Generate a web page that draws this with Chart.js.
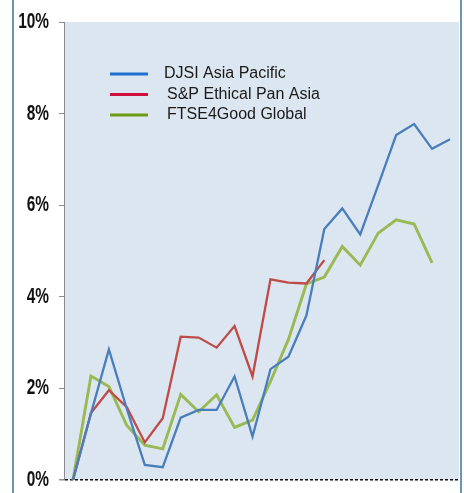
<!DOCTYPE html>
<html>
<head>
<meta charset="utf-8">
<script src="https://cdn.jsdelivr.net/npm/chart.js@4/dist/chart.umd.min.js"></script>
<style>
  body { margin: 0; background: #fff; }
  #wrap { position: relative; width: 464px; height: 493px; }
</style>
</head>
<body>
<div id="wrap"><canvas id="myChart" width="464" height="493"></canvas></div>
<script>
// periods (no labels shown on the axis)
var periods = ['0', '1', '2', '3', '4', '5', '6', '7', '8', '9', '10',
  '11', '12', '13', '14', '15', '16', '17', '18', '19', '20', '21'];

var djsi = [0, 1.45, 2.85, 1.55, 0.33, 0.28, 1.36, 1.53, 1.53, 2.26, 0.95,
  2.42, 2.69, 3.59, 5.48, 5.93, 5.36, 6.44, 7.53, 7.77, 7.23, 7.44];
var spEthical = [0, 1.46, 1.96, 1.59, 0.82, 1.35, 3.13, 3.11, 2.89, 3.36, 2.26,
  4.38, 4.31, 4.29, 4.80, null, null, null, null, null, null, null];
var ftse4good = [0, 2.27, 2.04, 1.19, 0.76, 0.68, 1.87, 1.49, 1.86, 1.15, 1.31,
  2.15, 3.07, 4.28, 4.43, 5.10, 4.69, 5.39, 5.68, 5.59, 4.74, null];

var yTicks = [0, 2, 4, 6, 8, 10];

var legendColors = ['#1f6fd2', '#d0103c', '#6c9c16'];

// light blue plot area + frame lines
var backdrop = {
  id: 'backdrop',
  beforeDraw: function (chart) {
    var ctx = chart.ctx, a = chart.chartArea;
    ctx.save();
    ctx.fillStyle = '#dce6f0';
    ctx.fillRect(a.left, a.top, a.right - a.left, a.bottom - a.top);
    ctx.restore();
  },
  afterDraw: function (chart) {
    var ctx = chart.ctx;
    ctx.save();
    ctx.strokeStyle = '#3f7390';
    ctx.lineWidth = 1.5;
    ctx.beginPath();
    ctx.moveTo(13, 0); ctx.lineTo(13, 493);
    ctx.moveTo(461, 0); ctx.lineTo(461, 493);
    ctx.stroke();
    ctx.restore();
  }
};

// narrow the y labels (no condensed font installed)
var narrowLabels = {
  id: 'narrowLabels',
  afterLayout: function (chart) {
    var s = chart.scales.y;
    if (s._narrowed) return;
    s._narrowed = true;
    var orig = s.drawLabels;
    s.drawLabels = function (area) {
      var c = this.ctx;
      var x = this.right - 15;
      c.save();
      c.translate(x, 0);
      c.scale(0.7, 1);
      c.translate(-x, 0);
      orig.call(this, area);
      c.restore();
    };
  }
};

// legend sits inside the plot
var innerLegend = {
  id: 'innerLegend',
  afterDatasetsDraw: function (chart) {
    var ctx = chart.ctx;
    ctx.save();
    ctx.font = '16px "Liberation Sans", Arial, sans-serif';
    ctx.textBaseline = 'middle';
    chart.data.datasets.forEach(function (ds, i) {
      var y = 74 + i * 20.5;
      ctx.strokeStyle = legendColors[i];
      ctx.lineWidth = 3;
      ctx.beginPath();
      ctx.moveTo(110, y);
      ctx.lineTo(148, y);
      ctx.stroke();
      ctx.fillStyle = '#1a1a1a';
      ctx.fillText(ds.label, i == 0 ? 164 : 167, y);
    });
    ctx.restore();
  }
};

var ctx = document.getElementById('myChart');
var myChart = new Chart(ctx, {
  type: 'line',
  data: {
    labels: periods,
    datasets: [{
      label: 'DJSI Asia Pacific',
      data: djsi,
      borderColor: '#4a7ebb',
      borderWidth: 2.3
    }, {
      label: 'S&P Ethical Pan Asia',
      data: spEthical,
      borderColor: '#be4b48',
      borderWidth: 2.3
    }, {
      label: 'FTSE4Good Global',
      data: ftse4good,
      borderColor: '#98b954',
      borderWidth: 2.9
    }]
  },
  options: {
    responsive: false,
    animation: false,
    devicePixelRatio: 1,
    layout: { padding: { top: 22, right: 5, bottom: 13, left: 0 } },
    elements: {
      point: { radius: 0 },
      line: { tension: 0, borderCapStyle: 'butt' }
    },
    plugins: {
      legend: { display: false },
      tooltip: { enabled: false }
    },
    scales: {
      x: {
        offset: true,
        grid: { display: false, drawTicks: false },
        ticks: { display: false },
        border: { display: false }
      },
      y: {
        min: 0,
        max: 10,
        afterFit: function (s) {
          s.width = 64;
          s.paddingTop = 0;
          s.paddingBottom = 0;
        },
        afterBuildTicks: function (s) {
          s.ticks = yTicks.map(function (v) { return { value: v }; });
        },
        grid: {
          drawOnChartArea: true,
          tickLength: 5,
          tickColor: '#8c8c8c',
          color: function (c) { return c.tick && c.tick.value === 0 ? '#111' : 'rgba(0,0,0,0)'; },
          lineWidth: function (c) { return c.tick && c.tick.value === 0 ? 1.5 : 1; }
        },
        border: { color: '#8c8c8c', width: 1, dash: [3, 2] },
        ticks: {
          padding: 10,
          color: '#111',
          font: { family: '"Liberation Sans", Arial, sans-serif', size: 22, weight: 'bold' },
          callback: function (v) { return v + '%'; }
        }
      }
    }
  },
  plugins: [backdrop, narrowLabels, innerLegend]
});
</script>
</body>
</html>
